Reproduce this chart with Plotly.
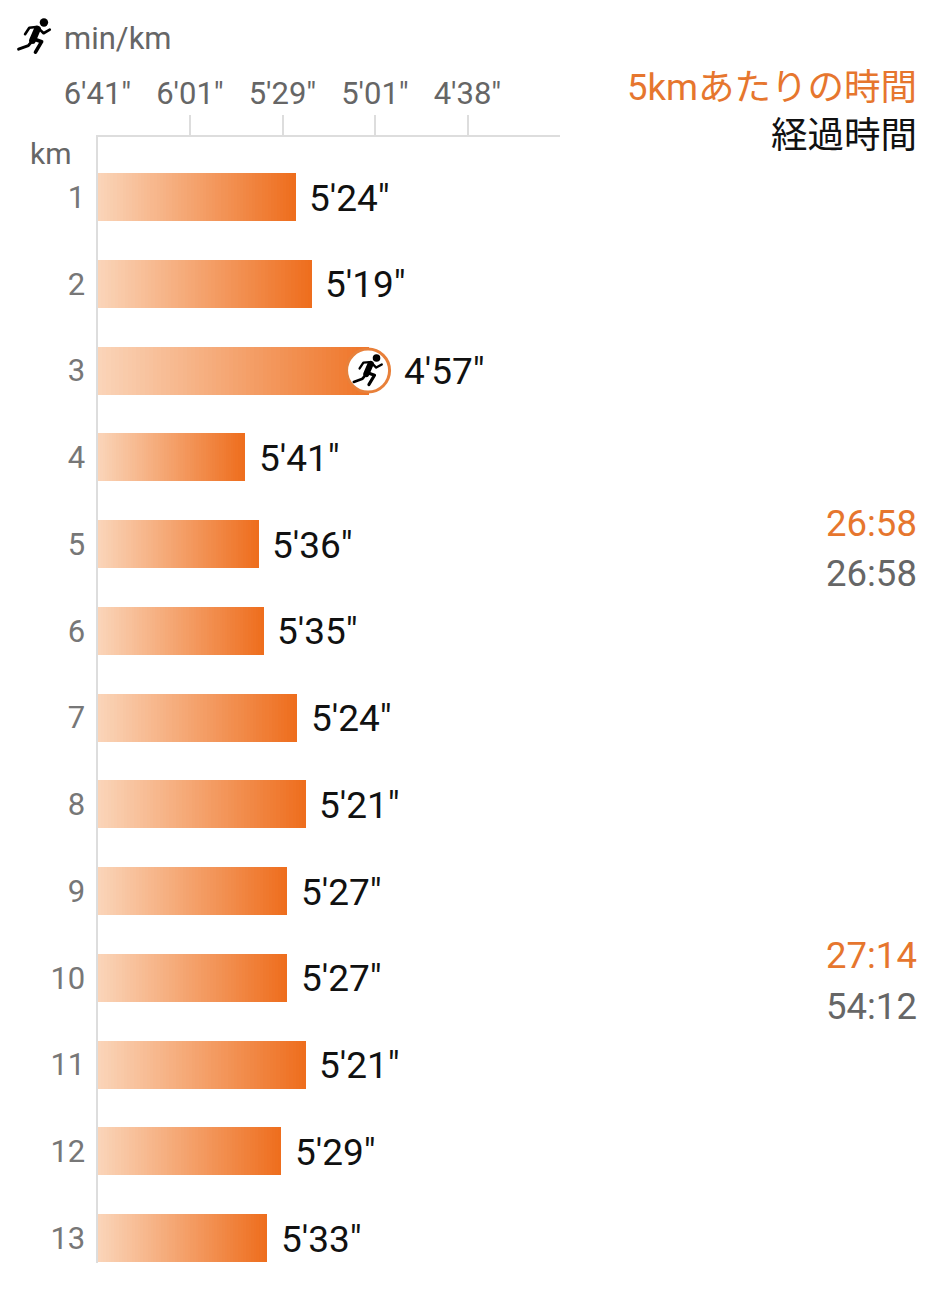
import base64
import plotly.graph_objects as go

# Chart data
km = [1, 2, 3, 4, 5, 6, 7, 8, 9, 10, 11, 12, 13]
speed_kmh = [11.135, 11.308, 11.925, 10.584, 10.735, 10.789, 11.146, 11.243, 11.038, 11.038, 11.243, 10.978, 10.827]
pace_labels = ["5'24\"", "5'19\"", "4'57\"", "5'41\"", "5'36\"", "5'35\"", "5'24\"", "5'21\"", "5'27\"", "5'27\"", "5'21\"", "5'29\"", "5'33\""]
tick_speeds = [9, 10, 11, 12, 13]
tick_labels = ["6'41\"", "6'01\"", "5'29\"", "5'01\"", "4'38\""]
split_per_5km = ["26:58", "27:14"]
elapsed = ["26:58", "54:12"]
fastest_index = 2

W, H = 944, 1296
LIGHT, DARK = (250, 212, 184), (238, 110, 30)
ORANGE = "#E6762E"
GREY = "#666666"
AXIS = "#DDDDDD"
LATIN = "Roboto"
CJK = "Noto Sans CJK JP"
SEGMENTS = 64


def mix(t):
    return "rgb(%d,%d,%d)" % tuple(round(a + (b - a) * t) for a, b in zip(LIGHT, DARK))


RUNNER = """<svg xmlns="http://www.w3.org/2000/svg" viewBox="48 50 110 120">
<g fill="none" stroke="#000" stroke-linejoin="round" stroke-linecap="round">
<circle cx="132" cy="67" r="13" fill="#000" stroke="none"/>
<path d="M112 87L97 122" stroke-width="21"/>
<path d="M115 84L131 100L150 89" stroke-width="8"/>
<path d="M108 81L87 83L74 103" stroke-width="8"/>
<path d="M97 116L125 126L106 158" stroke-width="11"/>
<path d="M94 126L84 138L54 149" stroke-width="9"/>
</g></svg>"""
RUNNER_URI = "data:image/svg+xml;base64," + base64.b64encode(RUNNER.encode()).decode()

fig = go.Figure()

for s in range(SEGMENTS):
    base, width, colors = [], [], []
    for i, v in enumerate(speed_kmh):
        step = (v - tick_speeds[0]) / SEGMENTS
        base.append(tick_speeds[0] + step * s)
        width.append(step * 1.02)
        scale = 0.93 if i == fastest_index else 1.0
        colors.append(mix(scale * s / (SEGMENTS - 1)))
    fig.add_trace(go.Bar(y=km, x=width, base=base, orientation="h", width=0.553,
                         marker=dict(color=colors, line=dict(width=0)),
                         showlegend=False, hoverinfo="skip"))

fig.add_trace(go.Scatter(x=[speed_kmh[fastest_index]], y=[km[fastest_index]], mode="markers",
                         marker=dict(size=43, color="white", line=dict(color="#E8803A", width=3)),
                         showlegend=False, hoverinfo="skip"))


def py(p):
    return 1 - p / H


def px(p):
    return p / W


annotations = []
for i, (k, v, lab) in enumerate(zip(km, speed_kmh, pace_labels)):
    annotations.append(dict(x=v, y=k, xref="x", yref="y", text=lab, showarrow=False, xanchor="left",
                            yanchor="middle", xshift=34 if i == fastest_index else 12.5, yshift=-1,
                            font=dict(family=LATIN, size=37, color="#111111")))


def note(x, y, text, size, color, family=LATIN, anchor="right"):
    annotations.append(dict(x=px(x), y=py(y), xref="paper", yref="paper", text=text, showarrow=False,
                            xanchor=anchor, yanchor="middle", borderpad=0,
                            font=dict(family=family, size=size, color=color)))


note(63, 38, "min/km", 31, GREY, anchor="left")
note(29, 154, "km", 30, GREY, anchor="left")
note(918, 87, "5kmあたりの時間", 36.5, ORANGE, family=f"{LATIN}, {CJK}")
note(918, 132, "経過時間", 36.5, "#111111", family=CJK)
for a, b, ya, yb in zip(split_per_5km, elapsed, [523, 956], [573, 1006]):
    note(918, ya, a, 36.5, ORANGE)
    note(918, yb, b, 36.5, GREY)

plot_left, plot_right = 97.5, 560
plot_top, plot_bottom = 137, 1263
fig.update_layout(
    width=W, height=H, autosize=False, template="none",
    margin=dict(l=0, r=0, t=0, b=0, pad=0, autoexpand=False),
    paper_bgcolor="white", plot_bgcolor="white",
    barmode="overlay", bargap=0,
    xaxis=dict(domain=[plot_left / W, plot_right / W], range=[9, 14], side="top", anchor="y",
               automargin=False,
               tickmode="array", tickvals=tick_speeds, ticktext=tick_labels, ticks="",
               ticklabelstandoff=19, showgrid=False, zeroline=False, showline=True,
               linecolor=AXIS, linewidth=2,
               tickfont=dict(family=LATIN, size=31, color=GREY),
               minor=dict(tickmode="array", tickvals=tick_speeds[1:], ticks="outside", ticklen=20,
                          tickwidth=2, tickcolor=AXIS, showgrid=False)),
    yaxis=dict(domain=[1 - plot_bottom / H, 1 - plot_top / H], range=[13.288, 0.308], anchor="x",
               automargin=False,
               tickmode="array", tickvals=km, ticktext=[str(k) for k in km], ticks="",
               ticklabelstandoff=4, showgrid=False, zeroline=False, showline=True,
               linecolor=AXIS, linewidth=2,
               tickfont=dict(family=LATIN, size=31, color="#777777")),
    annotations=annotations,
    images=[
        dict(source=RUNNER_URI, xref="paper", yref="paper", x=px(15), y=py(17), sizex=39 / W, sizey=39 / H,
             xanchor="left", yanchor="top", sizing="contain", layer="above"),
        dict(source=RUNNER_URI, xref="x", yref="y", x=speed_kmh[fastest_index], y=km[fastest_index],
             sizex=35 / 92.5, sizey=35 / 86.75, xanchor="center", yanchor="middle", sizing="contain", layer="above"),
    ],
)

fig.write_html("out.html", config=dict(displayModeBar=False),
               post_script="document.body.style.margin='0';")
